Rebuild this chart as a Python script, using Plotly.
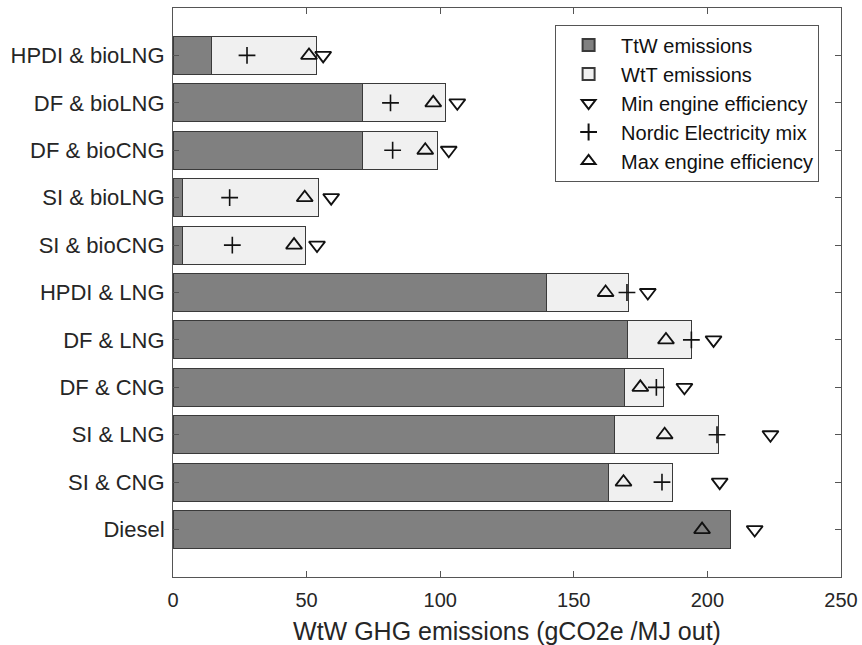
import plotly.graph_objects as go

categories = ["Diesel", "SI & CNG", "SI & LNG", "DF & CNG", "DF & LNG", "HPDI & LNG",
              "SI & bioCNG", "SI & bioLNG", "DF & bioCNG", "DF & bioLNG", "HPDI & bioLNG"]
ttw = [208.6, 163.0, 165.1, 168.9, 170.1, 139.9, 3.7, 3.7, 70.9, 70.9, 14.3]
wtt = [None, 24.0, 38.9, 14.7, 24.1, 30.6, 46.0, 50.7, 28.1, 31.1, 39.4]
min_eff = [217.7, 204.6, 223.6, 191.4, 202.3, 177.7, 53.9, 59.2, 103.2, 106.4, 56.2]
nordic = [None, 183.0, 203.6, 180.9, 194.0, 169.9, 22.2, 21.2, 82.2, 81.4, 27.7]
max_eff = [198.0, 168.6, 184.0, 174.9, 184.5, 161.9, 45.3, 49.3, 94.4, 97.4, 50.9]

font = "Liberation Sans, Arial, sans-serif"
edge = "#3a3a3a"
mk = "#111111"

fig = go.Figure()
fig.add_trace(go.Bar(y=categories, x=ttw, orientation="h", name="TtW emissions",
                     marker=dict(color="#808080", line=dict(color=edge, width=1)), width=0.8))
fig.add_trace(go.Bar(y=categories, x=wtt, orientation="h", name="WtT emissions",
                     marker=dict(color="#f0f0f0", line=dict(color=edge, width=1)), width=0.8))
fig.add_trace(go.Scatter(y=categories, x=min_eff, mode="markers", name="Min engine efficiency",
                         marker=dict(symbol="triangle-down-open", size=14, color=mk,
                                     line=dict(width=1.8, color=mk))))
fig.add_trace(go.Scatter(y=categories, x=nordic, mode="markers", name="Nordic Electricity mix",
                         marker=dict(symbol="cross-thin-open", size=12, color=mk,
                                     line=dict(width=1.6, color=mk))))
fig.add_trace(go.Scatter(y=categories, x=max_eff, mode="markers", name="Max engine efficiency",
                         marker=dict(symbol="triangle-up-open", size=14, color=mk,
                                     line=dict(width=1.8, color=mk))))

fig.update_layout(
    width=862, height=645,
    margin=dict(l=173, r=21, t=8, b=68),
    barmode="stack",
    plot_bgcolor="white", paper_bgcolor="white",
    font=dict(family=font, size=20, color="#262626"),
    showlegend=True,
    legend=dict(x=0.572, y=0.971, xanchor="left", yanchor="top", traceorder="normal",
                bgcolor="white", bordercolor="#555", borderwidth=1, itemwidth=55,
                font=dict(size=20, color="#111"), tracegroupgap=0, itemsizing="constant"),
)
fig.update_xaxes(range=[0, 250], tickvals=[0, 50, 100, 150, 200, 250], automargin=False,
                 ticks="inside", ticklen=6, tickcolor="#555", showline=True, linecolor="#555",
                 mirror="ticks", showgrid=False, zeroline=False, ticklabeloverflow="allow",
                 ticklabelstandoff=5,
                 tickfont=dict(size=20, color="#262626"),
                 title=dict(text="WtW GHG emissions (gCO2e /MJ out)", font=dict(size=25, color="#262626"), standoff=13))
fig.update_yaxes(type="category", categoryorder="array", categoryarray=categories,
                 range=[-1, 11], ticks="inside", ticklen=6, tickcolor="#555", automargin=False,
                 showline=True, linecolor="#555", mirror="ticks", showgrid=False,
                 ticklabelstandoff=3,
                 tickfont=dict(size=22, color="#262626"))

# remove the default page margin so the 862x645 figure fills the window exactly
fig.write_html("out.html", config={"displayModeBar": False},
               post_script="document.body.style.margin='0';"
                           "document.documentElement.style.overflow='hidden';")
